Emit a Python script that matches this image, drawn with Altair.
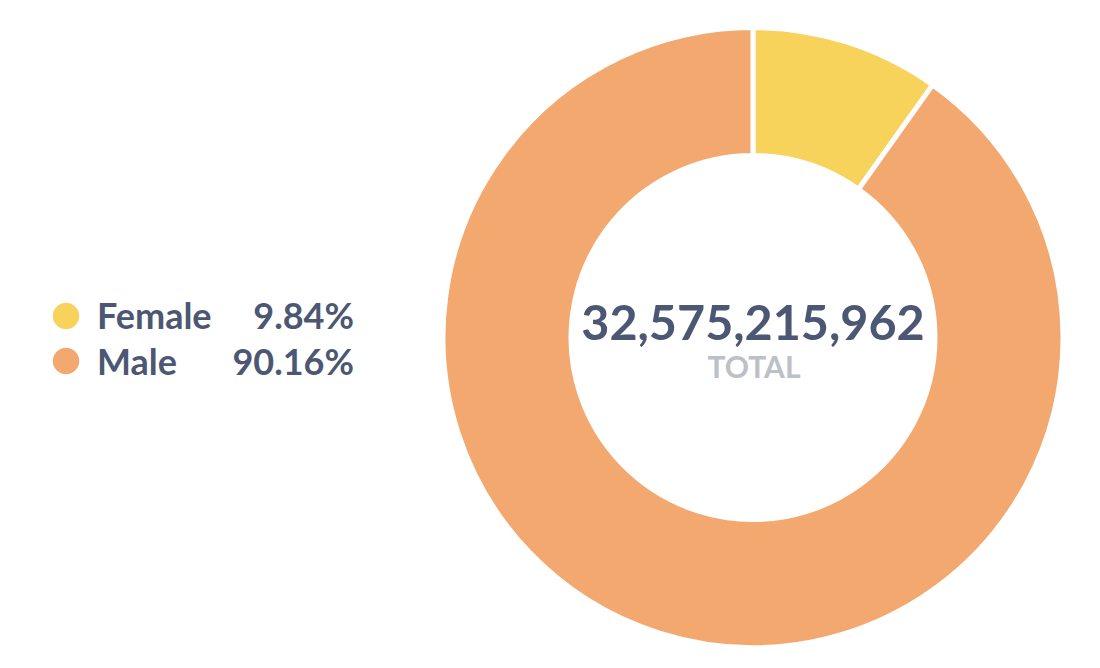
import altair as alt
import pandas as pd

categories = ["Female", "Male"]
shares = [9.84, 90.16]
share_labels = ["9.84%", "90.16%"]
colors = ["#F7D35C", "#F2A86F"]
total_label = "32,575,215,962"
total_caption = "TOTAL"

df = pd.DataFrame({
    "category": categories,
    "share": shares,
    "label": share_labels,
    "order": list(range(len(categories))),
})

color_scale = alt.Scale(domain=categories, range=colors)
TEXT = "#4C5773"

arc = alt.Chart(df).mark_arc(
    outerRadius=310, innerRadius=182, stroke="white", strokeWidth=5
).encode(
    theta=alt.Theta("share:Q", stack=True),
    order=alt.Order("order:Q"),
    color=alt.Color("category:N", scale=color_scale, legend=None),
    x=alt.value(753), y=alt.value(337.5),
)

center_num = alt.Chart(pd.DataFrame({"t": [total_label]})).mark_text(
    font="Lato", fontWeight="bold", fontSize=48.5, color=TEXT,
    align="center", baseline="alphabetic"
).encode(text="t:N", x=alt.value(753), y=alt.value(340))

center_cap = alt.Chart(pd.DataFrame({"t": [total_caption]})).mark_text(
    font="Lato", fontWeight="bold", fontSize=30, color="#BCC0C7",
    align="center", baseline="alphabetic"
).encode(text="t:N", x=alt.value(754), y=alt.value(378))

def yscale(r):
    return alt.Scale(type="point", padding=0, domain=categories, range=r)

dot = alt.Chart(df).mark_circle(size=700, opacity=1).encode(
    x=alt.value(66),
    y=alt.Y("category:N", scale=yscale([316, 361]), axis=None),
    color=alt.Color("category:N", scale=color_scale, legend=None),
)

name = alt.Chart(df).mark_text(
    font="Lato", fontWeight="bold", fontSize=36, color=TEXT,
    align="left", baseline="alphabetic"
).encode(
    x=alt.value(97),
    y=alt.Y("category:N", scale=yscale([329, 375]), axis=None),
    text="category:N",
)

pct = alt.Chart(df).mark_text(
    font="Lato", fontWeight="bold", fontSize=36, color=TEXT,
    align="right", baseline="alphabetic"
).encode(
    x=alt.value(354),
    y=alt.Y("category:N", scale=yscale([329, 375]), axis=None),
    text="label:N",
)

chart = alt.layer(arc, center_num, center_cap, dot, name, pct).resolve_scale(
    y="independent"
).properties(
    width=1100, height=668, padding=0,
    autosize=alt.AutoSizeParams(type="none"),
).configure(background="white").configure_view(stroke=None, strokeWidth=0)

chart.save("out.html", embed_options={"renderer": "svg", "actions": False})
